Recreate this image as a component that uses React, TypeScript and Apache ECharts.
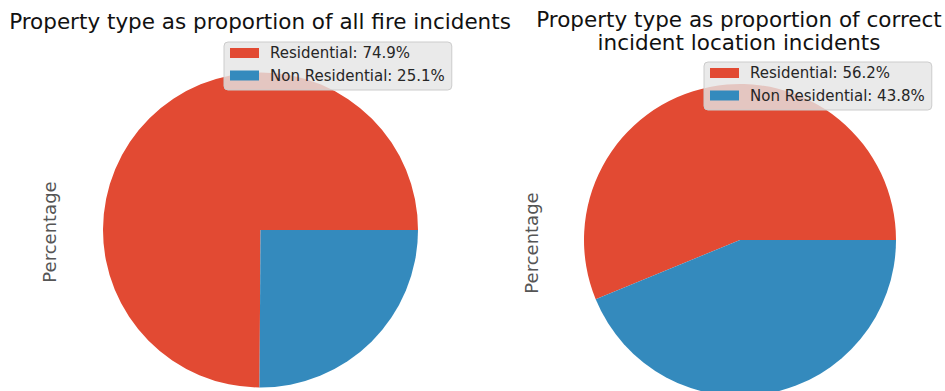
import React, { useEffect, useRef } from "react";
import * as echarts from "echarts";

const categories = ["Residential", "Non Residential"];
const allFireValues = [74.9, 25.1];
const correctLocationValues = [56.2, 43.8];
const chartTitles = [
  "Property type as proportion of all fire incidents",
  "Property type as proportion of correct\nincident location incidents",
];
const yAxisLabel = "Percentage";
const colors = ["#E24A33", "#348ABD"];

const FONT = "DejaVu Sans, Verdana, sans-serif";

export default function App() {
  const ref = useRef<HTMLDivElement>(null);
  useEffect(() => {
    if (!ref.current) return;
    const chart = echarts.init(ref.current, undefined, { renderer: "svg" });
    const makeData = (vals: number[]) =>
      categories.map((c, i) => ({
        name: `${c}: ${vals[i].toFixed(1)}%`,
        value: vals[i],
        itemStyle: { color: colors[i] },
      }));
    const d1 = makeData(allFireValues);
    const d2 = makeData(correctLocationValues);
    const legendCommon = {
      orient: "vertical",
      icon: "rect",
      itemWidth: 29,
      itemHeight: 10,
      itemGap: 6.5,
      backgroundColor: "rgba(229,229,229,0.8)",
      borderColor: "#cccccc",
      borderWidth: 1,
      borderRadius: 4,
      padding: [3, 7, 6.5, 6],
      textStyle: {
        fontFamily: FONT,
        fontSize: 15,
        lineHeight: 16,
        color: "#262626",
        padding: [0, 0, 0, 6],
      },
      selectedMode: false,
    };
    const labelStyle = {
      text: yAxisLabel,
      fontFamily: FONT,
      fontSize: 18,
      fill: "#555555",
      textAlign: "center",
      textVerticalAlign: "middle",
    };
    chart.setOption({
      animation: false,
      title: [
        {
          text: chartTitles[0],
          left: 255,
          top: 5,
          textAlign: "center",
          textStyle: { fontFamily: FONT, fontSize: 21.5, fontWeight: "normal", color: "#111" },
        },
        {
          text: chartTitles[1],
          left: 734,
          top: 3,
          textAlign: "center",
          textStyle: {
            fontFamily: FONT,
            fontSize: 21.5,
            fontWeight: "normal",
            color: "#111",
            lineHeight: 23,
          },
        },
      ],
      legend: [
        { ...legendCommon, left: 224, top: 42, data: d1.map((d) => d.name) },
        { ...legendCommon, left: 704, top: 62, data: d2.map((d) => d.name) },
      ],
      graphic: [
        { type: "text", x: 49, y: 232, rotation: Math.PI / 2, style: labelStyle },
        { type: "text", x: 531, y: 243, rotation: Math.PI / 2, style: labelStyle },
      ],
      series: [
        {
          type: "pie",
          center: [260.5, 230],
          radius: 157.5,
          startAngle: 0,
          clockwise: false,
          label: { show: false },
          labelLine: { show: false },
          emphasis: { disabled: true },
          itemStyle: { borderWidth: 0 },
          z: 1,
          data: d1,
        },
        {
          type: "pie",
          center: [740, 240],
          radius: 156,
          startAngle: 0,
          clockwise: false,
          label: { show: false },
          labelLine: { show: false },
          emphasis: { disabled: true },
          itemStyle: { borderWidth: 0 },
          z: 1,
          data: d2,
        },
      ],
    });
    return () => chart.dispose();
  }, []);
  return (
    <div
      ref={ref}
      style={{ position: "fixed", left: 0, top: 0, width: 945, height: 391, background: "#fff" }}
    />
  );
}
